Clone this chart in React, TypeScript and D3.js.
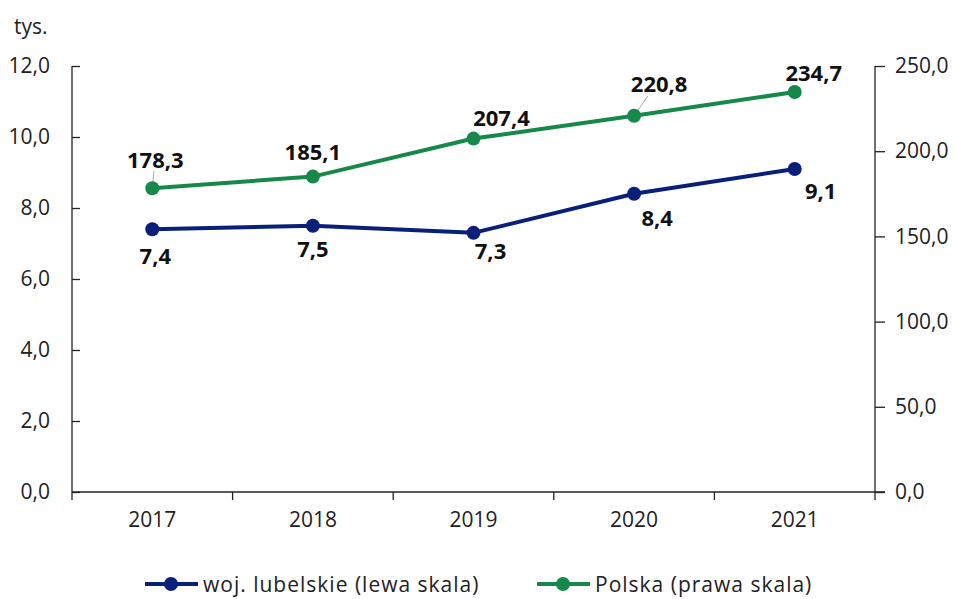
import React, { useEffect, useRef } from 'react';
import * as d3 from 'd3';

const years = ['2017', '2018', '2019', '2020', '2021'];
const lubelskie = [7.4, 7.5, 7.3, 8.4, 9.1];
const polska = [178.3, 185.1, 207.4, 220.8, 234.7];
const leftTicks = [0, 2, 4, 6, 8, 10, 12];
const rightTicks = [0, 50, 100, 150, 200, 250];
const legendLabels = ['woj. lubelskie (lewa skala)', 'Polska (prawa skala)'];

// label placement relative to the point (px)
const lubOffsets = [[3, 26], [0, 22], [17, 17], [23, 23], [26, 21]];
const polOffsets = [[3, -29], [0, -26], [28, -22], [25, -33], [19, -20]];

const BLUE = '#0a1f7a';
const GREEN = '#16894a';
const FONT = '"Open Sans", sans-serif';

const fmt = (v: number) => v.toFixed(1).replace('.', ',');

export default function App() {
  const svgRef = useRef<SVGSVGElement>(null);

  useEffect(() => {
    if (!svgRef.current) return;
    const svg = d3.select(svgRef.current);
    svg.selectAll('*').remove();

    const m = { left: 72, right: 875, top: 66, bottom: 492 };

    const x = d3.scaleBand().domain(years).range([m.left, m.right]);
    const yL = d3.scaleLinear().domain([0, 12]).range([m.bottom, m.top]);
    const yR = d3.scaleLinear().domain([0, 250]).range([m.bottom, m.top]);
    const cx = (d: string) => (x(d) as number) + x.bandwidth() / 2;

    // axes
    const axisL = svg.append('g').attr('transform', `translate(${m.left},0)`)
      .call(d3.axisLeft(yL).tickValues(leftTicks).tickSize(-8).tickPadding(22).tickFormat(d => fmt(+d)));
    const axisR = svg.append('g').attr('transform', `translate(${m.right},0)`)
      .call(d3.axisRight(yR).tickValues(rightTicks).tickSize(10).tickPadding(10).tickFormat(d => fmt(+d)));
    const axisX = svg.append('g').attr('transform', `translate(0,${m.bottom})`)
      .call(d3.axisBottom(x).tickSize(0).tickPadding(20));

    [axisL, axisR, axisX].forEach(a => {
      a.select('.domain').attr('stroke', '#222').attr('stroke-width', 1.3);
      a.selectAll('.tick line').attr('stroke', '#222').attr('stroke-width', 1.3);
      a.selectAll('text').attr('font-family', FONT).attr('font-size', 21).attr('fill', '#222');
    });
    axisL.select('.domain').attr('d', `M0,${m.top}V${m.bottom}`);
    axisR.select('.domain').attr('d', `M0,${m.top}V${m.bottom}`);
    axisX.select('.domain').attr('d', `M${m.left},0H${m.right + 10}`);

    // category boundary ticks
    const bounds = years.map(d => x(d) as number).concat([m.right]);
    svg.append('g').selectAll('line').data(bounds).join('line')
      .attr('x1', d => d).attr('x2', d => d)
      .attr('y1', m.bottom).attr('y2', m.bottom + 8)
      .attr('stroke', '#222').attr('stroke-width', 1.3);

    svg.append('text').attr('x', 14).attr('y', 34)
      .attr('font-family', FONT).attr('font-size', 21).attr('fill', '#222').text('tys.');

    const series = [
      { values: polska, y: yR, color: GREEN, offsets: polOffsets },
      { values: lubelskie, y: yL, color: BLUE, offsets: lubOffsets },
    ];

    // leader lines
    const leaders = [
      { i: 0, s: 0 },
      { i: 3, s: 0 },
    ];
    leaders.forEach(({ i, s }) => {
      const se = series[s];
      const px = cx(years[i]);
      const py = se.y(se.values[i]);
      const [dx, dy] = se.offsets[i];
      svg.append('line')
        .attr('x1', px).attr('y1', py)
        .attr('x2', px + dx * 0.55).attr('y2', py + dy * 0.6)
        .attr('stroke', '#aaa').attr('stroke-width', 1);
    });

    series.forEach(se => {
      const line = d3.line<number>().x((_, i) => cx(years[i])).y(v => se.y(v));
      svg.append('path').datum(se.values).attr('d', line)
        .attr('fill', 'none').attr('stroke', se.color).attr('stroke-width', 4);
      svg.append('g').selectAll('circle').data(se.values).join('circle')
        .attr('cx', (_, i) => cx(years[i])).attr('cy', v => se.y(v))
        .attr('r', 7).attr('fill', se.color);
      svg.append('g').selectAll('text').data(se.values).join('text')
        .attr('x', (_, i) => cx(years[i]) + se.offsets[i][0])
        .attr('y', (v, i) => se.y(v) + se.offsets[i][1])
        .attr('text-anchor', 'middle').attr('dominant-baseline', 'central')
        .attr('font-family', FONT).attr('font-weight', 700).attr('font-size', 22)
        .attr('fill', '#111').text(v => fmt(v));
    });

    // legend
    const legend = [
      { x: 145, color: BLUE, label: legendLabels[0] },
      { x: 537, color: GREEN, label: legendLabels[1] },
    ];
    const ly = 584;
    legend.forEach(l => {
      svg.append('line').attr('x1', l.x).attr('x2', l.x + 53).attr('y1', ly).attr('y2', ly)
        .attr('stroke', l.color).attr('stroke-width', 4);
      svg.append('circle').attr('cx', l.x + 26).attr('cy', ly).attr('r', 7).attr('fill', l.color);
      svg.append('text').attr('x', l.x + 58).attr('y', ly).attr('dominant-baseline', 'central')
        .attr('font-family', FONT).attr('font-size', 21).attr('letter-spacing', 1)
        .attr('fill', '#222').text(l.label);
    });
  }, []);

  return (
    <svg
      ref={svgRef}
      width={956}
      height={599}
      style={{ position: 'absolute', left: 0, top: 0, background: '#fff' }}
    />
  );
}
